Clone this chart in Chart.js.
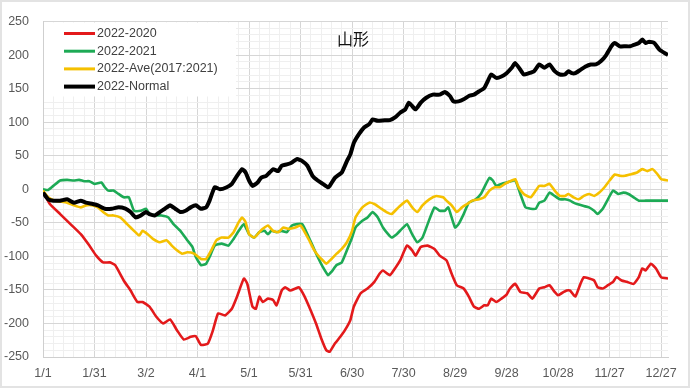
<!DOCTYPE html>
<html>
<head>
<meta charset="utf-8">
<script src="https://cdn.jsdelivr.net/npm/chart.js@4.4.0/dist/chart.umd.min.js"></script>
<style>
  html, body { margin: 0; padding: 0; background: #fff; }
  canvas { display: block; }
</style>
</head>
<body>
<canvas id="chart" width="690" height="388"></canvas>
<script>
/* DATA */
const TITLE = '山形';

// day index from 1/1, tick label every 30 days
const DATE_LABELS = ['1/1', '1/31', '3/2', '4/1', '5/1', '5/31', '6/30', '7/30', '8/29', '9/28', '10/28', '11/27', '12/27'];

const SERIES_NAMES = ['2022-2020', '2022-2021', '2022-Ave(2017:2021)', '2022-Normal'];

const red_days = [0, 4, 10, 16, 22, 27, 31, 35, 39, 42, 47, 51, 55, 58, 62, 66, 70, 74, 78, 82, 86, 89, 92, 96, 99, 102, 106, 110, 113, 117, 119, 122, 124, 126, 128, 131, 134, 136, 139, 141, 144, 147, 149, 152, 155, 159, 162, 165, 167, 170, 174, 177, 179, 181, 185, 189, 193, 196, 198, 202, 205, 208, 212, 215, 217, 220, 224, 228, 231, 235, 238, 241, 245, 248, 251, 254, 257, 259, 261, 264, 267, 270, 272, 275, 278, 282, 285, 289, 292, 295, 298, 300, 302, 305, 307, 310, 313, 315, 318, 321, 323, 326, 329, 332, 334, 337, 340, 344, 347, 349, 351, 354, 357, 360, 364];
const red_vals = [-3, -22, -37, -52, -67, -84, -99, -109, -109, -113, -136, -151, -168, -168, -175, -190, -200, -194, -210, -224, -220, -219, -232, -230, -210, -185, -188, -178, -160, -133, -141, -175, -178, -160, -168, -163, -165, -173, -151, -146, -151, -148, -146, -158, -175, -200, -222, -240, -242, -230, -217, -205, -195, -175, -155, -148, -138, -126, -121, -128, -118, -106, -84, -91, -99, -86, -84, -89, -99, -106, -126, -143, -148, -160, -175, -178, -173, -173, -163, -168, -163, -157, -148, -141, -153, -155, -163, -148, -146, -143, -153, -158, -155, -151, -151, -160, -141, -131, -133, -136, -146, -148, -143, -138, -131, -136, -138, -141, -131, -118, -121, -111, -118, -131, -133];

const green_days = [0, 3, 6, 10, 14, 18, 21, 24, 27, 30, 34, 36, 38, 41, 44, 47, 50, 53, 57, 60, 62, 66, 69, 73, 76, 80, 84, 87, 89, 92, 95, 97, 100, 104, 108, 111, 114, 117, 120, 123, 126, 129, 131, 133, 136, 139, 142, 145, 148, 151, 154, 157, 160, 163, 166, 168, 171, 174, 177, 180, 182, 186, 189, 192, 195, 198, 201, 203, 206, 209, 212, 215, 218, 221, 224, 228, 231, 234, 236, 238, 240, 242, 245, 248, 252, 255, 258, 260, 262, 264, 267, 270, 275, 278, 281, 284, 287, 289, 292, 295, 298, 301, 304, 307, 309, 311, 315, 318, 321, 323, 326, 329, 332, 335, 338, 341, 344, 347, 351, 364];
const green_vals = [0, -1, 5, 13, 14, 13, 14, 12, 12, 8, 10, 3, -2, -2, -7, -12, -12, -32, -32, -29, -37, -39, -39, -42, -52, -62, -76, -86, -101, -113, -111, -101, -84, -81, -84, -74, -62, -52, -67, -72, -64, -62, -67, -62, -64, -62, -64, -54, -52, -52, -67, -84, -101, -116, -128, -123, -113, -109, -91, -72, -57, -47, -42, -34, -42, -57, -67, -72, -67, -59, -52, -67, -79, -72, -52, -27, -32, -32, -27, -42, -57, -52, -37, -20, -15, -7, 8, 17, 13, 5, 8, 10, 13, -7, -27, -29, -29, -20, -17, -5, -10, -15, -15, -17, -20, -22, -25, -27, -32, -37, -29, -15, -2, -7, -5, -7, -12, -17, -17, -17];

const yellow_days = [0, 3, 7, 14, 18, 22, 25, 29, 32, 35, 38, 41, 45, 49, 53, 56, 58, 61, 64, 68, 72, 75, 78, 81, 84, 88, 92, 95, 98, 101, 104, 108, 111, 114, 116, 118, 120, 123, 126, 128, 131, 134, 137, 140, 143, 147, 150, 152, 155, 158, 161, 163, 165, 168, 171, 174, 177, 180, 182, 186, 190, 193, 197, 200, 203, 207, 212, 215, 218, 221, 225, 229, 233, 235, 238, 241, 244, 247, 250, 254, 257, 260, 263, 266, 269, 272, 275, 277, 280, 284, 287, 289, 292, 295, 298, 301, 304, 306, 309, 312, 315, 318, 321, 324, 327, 330, 333, 336, 339, 342, 346, 349, 352, 355, 358, 360, 364];
const yellow_vals = [-2, -12, -17, -20, -24, -27, -24, -24, -27, -34, -39, -39, -42, -52, -62, -69, -62, -67, -74, -79, -76, -84, -91, -96, -94, -96, -104, -104, -91, -76, -72, -72, -64, -49, -42, -49, -67, -72, -64, -59, -54, -62, -64, -57, -59, -57, -54, -62, -76, -91, -101, -106, -111, -104, -96, -89, -79, -62, -42, -27, -20, -22, -29, -34, -37, -27, -17, -27, -34, -24, -15, -10, -12, -17, -24, -34, -27, -22, -17, -15, -12, -2, 3, 3, 8, 12, 15, 3, -7, -12, -2, 5, 5, 8, -2, -10, -10, -7, -12, -15, -10, -7, -10, -5, 3, 13, 22, 20, 20, 22, 25, 30, 27, 30, 22, 15, 13];

const black_days = [0, 3, 6, 10, 14, 18, 22, 25, 29, 32, 36, 40, 44, 48, 51, 54, 57, 60, 62, 65, 68, 71, 74, 77, 80, 83, 86, 89, 92, 95, 97, 100, 103, 107, 110, 113, 116, 118, 120, 122, 125, 127, 130, 132, 134, 137, 139, 142, 145, 148, 151, 154, 157, 160, 163, 166, 167, 170, 174, 177, 179, 181, 184, 187, 190, 192, 195, 199, 202, 205, 208, 211, 213, 215, 217, 220, 223, 227, 231, 234, 237, 239, 242, 245, 248, 251, 254, 257, 259, 261, 264, 267, 270, 273, 275, 278, 280, 283, 286, 289, 292, 295, 298, 301, 304, 306, 308, 310, 313, 316, 319, 322, 325, 328, 331, 333, 336, 339, 342, 344, 347, 349, 351, 353, 356, 359, 362, 364];
const black_vals = [-5, -15, -17, -17, -15, -20, -17, -20, -22, -24, -29, -29, -27, -29, -34, -42, -39, -34, -37, -39, -34, -29, -24, -29, -34, -32, -27, -24, -29, -27, -17, 3, 0, 3, 8, 20, 30, 25, 13, 5, 10, 17, 20, 25, 30, 27, 35, 37, 40, 45, 42, 35, 20, 13, 8, 3, 5, 17, 25, 42, 52, 69, 82, 92, 97, 104, 102, 103, 103, 107, 114, 119, 129, 124, 119, 129, 136, 141, 141, 145, 139, 131, 131, 134, 139, 141, 146, 151, 161, 171, 166, 168, 173, 181, 188, 178, 171, 173, 176, 186, 181, 186, 176, 171, 171, 176, 173, 173, 178, 183, 186, 186, 191, 200, 213, 218, 213, 213, 213, 215, 218, 223, 218, 220, 218, 208, 203, 200];

/* DATA STRUCTURE */
const toPoints = (days, vals) => days.map((d, i) => ({ x: d, y: vals[i] }));

const GET_SERIES = (idx, days, vals, color, width, order) => {
    return {
        label: SERIES_NAMES[idx],
        data: toPoints(days, vals),
        borderColor: color,
        backgroundColor: color,
        borderWidth: width,
        pointRadius: 0,
        tension: 0.15,
        order: order
    };
};

const FONT = { family: '"Liberation Sans", Arial, sans-serif', size: 12.5 };
const TEXT_COLOR = '#595959';

/* legend box inside plot + title */
const insideLegend = {
    id: 'insideLegend',
    beforeDatasetsDraw(chart) {
        const ctx = chart.ctx;
        const area = chart.chartArea;
        ctx.save();
        ctx.fillStyle = '#fff';
        ctx.fillRect(area.left + 1, area.top + 1, 192, 74);
        ctx.font = FONT.size + 'px ' + FONT.family;
        ctx.textBaseline = 'middle';
        chart.data.datasets.forEach((ds, i) => {
            const y = area.top + 12 + i * 17.7;
            ctx.strokeStyle = ds.borderColor;
            ctx.lineWidth = ds.borderWidth > 3 ? 4 : 3;
            ctx.beginPath();
            ctx.moveTo(area.left + 21, y);
            ctx.lineTo(area.left + 52, y);
            ctx.stroke();
            ctx.fillStyle = '#404040';
            ctx.fillText(ds.label, area.left + 54, y);
        });
        ctx.restore();
    },
    afterDraw(chart) {
        const ctx = chart.ctx;
        ctx.save();
        ctx.font = '16px "Noto Sans CJK JP", sans-serif';
        ctx.fillStyle = '#111';
        ctx.textBaseline = 'middle';
        ctx.fillText(TITLE, 337, 39);
        ctx.strokeStyle = '#e3e3e3';
        ctx.lineWidth = 2;
        ctx.strokeRect(1, 1, 688, 386);
        ctx.restore();
    }
};

var chart = new Chart(document.getElementById('chart'), {
    type: 'line',
    data: {
        datasets: [
            GET_SERIES(0, red_days, red_vals, '#e3191b', 2.6, 4),
            GET_SERIES(1, green_days, green_vals, '#1daa55', 2.6, 3),
            GET_SERIES(2, yellow_days, yellow_vals, '#f5c000', 2.6, 2),
            GET_SERIES(3, black_days, black_vals, '#000000', 4, 1)
        ]
    },
    options: {
        responsive: false,
        animation: false,
        devicePixelRatio: 1,
        layout: { padding: { top: 19, right: 22, left: 0, bottom: 0 } },
        plugins: {
            legend: { display: false },
            tooltip: { enabled: false }
        },
        scales: {
            x: {
                type: 'linear',
                min: 0,
                max: 364,
                afterFit: (s) => { s.height = 31; },
                grid: {
                    color: (c) => (c.tick && c.tick.value % 30 === 0) ? '#d6d6d6' : '#efefef',
                    drawTicks: false
                },
                border: { color: '#cfcfcf' },
                ticks: {
                    stepSize: 6,
                    includeBounds: false,
                    autoSkip: false,
                    maxRotation: 0,
                    padding: 9,
                    color: TEXT_COLOR,
                    font: FONT,
                    callback: (v) => v % 30 === 0 ? DATE_LABELS[v / 30] : ''
                }
            },
            y: {
                min: -250,
                max: 250,
                afterFit: (s) => { s.width = 43; },
                grid: {
                    color: (c) => (c.tick && c.tick.value % 50 === 0) ? '#d6d6d6' : '#efefef',
                    drawTicks: false
                },
                border: { color: '#cfcfcf' },
                ticks: {
                    stepSize: 10,
                    autoSkip: false,
                    padding: 14,
                    color: TEXT_COLOR,
                    font: FONT,
                    callback: (v) => v % 50 === 0 ? String(v) : ''
                }
            }
        }
    },
    plugins: [insideLegend]
});
</script>
</body>
</html>
